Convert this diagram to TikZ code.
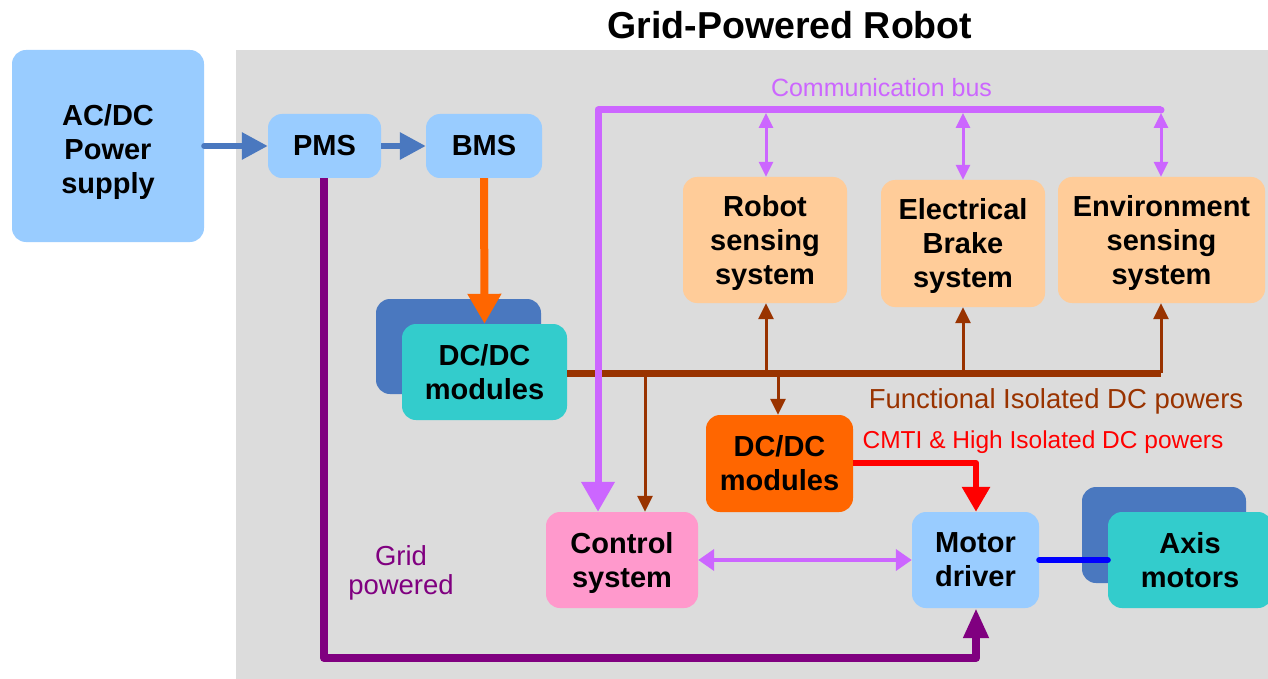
\documentclass[tikz,border=0pt]{standalone}
\usepackage{fontspec}
\setmainfont{Liberation Sans}
\usetikzlibrary{arrows.meta}
\definecolor{bg}{HTML}{DCDCDC}
\definecolor{lblue}{HTML}{99CCFF}
\definecolor{sblue}{HTML}{4A78BF}
\definecolor{teal}{HTML}{33CCCC}
\definecolor{peach}{HTML}{FFCC99}
\definecolor{orng}{HTML}{FF6600}
\definecolor{pink}{HTML}{FF99CC}
\definecolor{violet}{HTML}{CC66FF}
\definecolor{brown}{HTML}{993300}
\definecolor{purp}{HTML}{800080}
\tikzset{
  blk/.style={rounded corners=14pt, inner sep=0pt},
  txt/.style={inner sep=0pt, align=center, font=\fontsize{29}{34}\selectfont\bfseries},
}
\begin{document}
\begin{tikzpicture}[x=1pt,y=-1pt]
\useasboundingbox (0,0) rectangle (1268,679);
\fill[white] (0,0) rectangle (1268,679);
\fill[bg] (236,50) rectangle (1268,679);
\node[font=\fontsize{37.5}{44}\selectfont\bfseries] (title) at (790,25) {Grid-Powered Robot};
% blocks
\node[blk, fill=lblue, minimum width=192pt, minimum height=192pt] (acdc) at (108,146) {};
\node[txt] (acdct) at ([yshift=-6pt]acdc.center) {AC/DC\\Power\\supply};
\node[blk, fill=lblue, minimum width=113pt, minimum height=64pt] (pms) at (324.5,146) {};
\node[txt] (pmst) at (pms.center) {PMS};
\node[blk, fill=lblue, minimum width=116pt, minimum height=64pt] (bms) at (484,146) {};
\node[txt] (bmst) at (bms.center) {BMS};
\fill[sblue, rounded corners=14pt] (376,299) rectangle (541,394);
\node[blk, fill=teal, minimum width=165pt, minimum height=96pt] (dc1) at (484.5,372) {};
\node[txt] (dc1t) at (dc1.center) {DC/DC\\modules};
\node[blk, fill=peach, minimum width=164pt, minimum height=126pt] (rss) at (765,240) {};
\node[txt] (rsst) at ([yshift=-3pt]rss.center) {Robot\\sensing\\system};
\node[blk, fill=peach, minimum width=164pt, minimum height=127pt] (ebs) at (963,243.5) {};
\node[txt] (ebst) at ([yshift=-3pt]ebs.center) {Electrical\\Brake\\system};
\node[blk, fill=peach, minimum width=207pt, minimum height=126pt] (ess) at (1161.5,240) {};
\node[txt] (esst) at ([yshift=-3pt]ess.center) {Environment\\sensing\\system};
\node[blk, fill=orng, minimum width=147pt, minimum height=97pt] (dc2) at (779.5,463.5) {};
\node[txt] (dc2t) at (dc2.center) {DC/DC\\modules};
\node[blk, fill=pink, minimum width=152pt, minimum height=96pt] (ctl) at (622,560) {};
\node[txt] (ctlt) at ([yshift=-2.5pt]ctl.center) {Control\\system};
\node[blk, fill=lblue, minimum width=127pt, minimum height=96pt] (mdr) at (975.5,560) {};
\node[txt] (mdrt) at (mdr.center) {Motor\\driver};
\fill[sblue, rounded corners=14pt] (1082,487) rectangle (1246,583);
\node[blk, fill=teal, minimum width=164pt, minimum height=96pt] (axm) at (1190,560) {};
\node[txt] (axmt) at (axm.center) {Axis\\motors};
% labels
\node[font=\fontsize{25}{30}\selectfont, text=violet] (cbl) at (881.5,88) {Communication bus};
\node[font=\fontsize{27.5}{32}\selectfont, text=brown] (fidl) at (1056,401.5) {Functional Isolated DC powers};
\node[font=\fontsize{24.5}{30}\selectfont, text=red] (cmtil) at (1043,442.5) {CMTI \& High Isolated DC powers};
\node[font=\fontsize{27.5}{29.5}\selectfont, text=purp, align=center] (gpl) at (401,573) {Grid\\powered};
% blue arrows
\draw[sblue, line width=6pt, line cap=round, -{Triangle[length=26pt,width=26pt]}] (acdc.east) -- (pms.west);
\draw[sblue, line width=6pt, -{Triangle[length=26pt,width=26pt]}] (pms.east) -- (bms.west);
% BMS -> DC/DC
\draw[orng, line width=8pt, -{Triangle[length=30pt,width=32pt]}] (bms.south) -- (dc1.north);
% grid powered
\coordinate (g1) at (324,658);
\coordinate (g2) at (976,658);
\draw[purp, line width=8pt, line join=round, -{Triangle[length=30pt,width=24pt]}] (pms.south -| g1) -- (g1) -- (g2) -- (mdr.south -| g2);
% brown bus
\coordinate (b0) at (567,373);
\coordinate (b1) at (1161,373);
\coordinate (bc) at (645,373);
\coordinate (bd) at (778,373);
\coordinate (br) at (766,373);
\coordinate (be) at (963,373);
\draw[brown, line width=7pt] (dc1.east |- b0) -- (b1);
\draw[brown, line width=3pt, -{Triangle[length=16pt,width=15pt]}] (br) -- (rss.south -| br);
\draw[brown, line width=3pt, -{Triangle[length=16pt,width=15pt]}] (be) -- (ebs.south -| be);
\draw[brown, line width=3pt, -{Triangle[length=16pt,width=15pt]}] (b1) -- (ess.south -| b1);
\draw[brown, line width=3pt, -{Triangle[length=16pt,width=15pt]}] (bc) -- (ctl.north -| bc);
\draw[brown, line width=3pt, -{Triangle[length=16pt,width=15pt]}] (bd) -- (dc2.north -| bd);
% communication bus
\coordinate (c0) at (598,110);
\coordinate (c1) at (1161,110);
\coordinate (t1) at (766,113);
\coordinate (t2) at (963,113);
\coordinate (t3) at (1161,113);
\draw[violet, line width=7pt, line join=round, -{Triangle[length=30pt,width=32pt]}] (c1) -- (c0) -- (ctl.north -| c0);
\fill[violet] (c1) circle (3.5pt);
\draw[violet, line width=3pt, {Triangle[length=15pt,width=14pt]}-{Triangle[length=15pt,width=14pt]}] (t1) -- (rss.north -| t1);
\draw[violet, line width=3pt, {Triangle[length=15pt,width=14pt]}-{Triangle[length=15pt,width=14pt]}] (t2) -- (ebs.north -| t2);
\draw[violet, line width=3pt, {Triangle[length=15pt,width=14pt]}-{Triangle[length=15pt,width=14pt]}] (t3) -- (ess.north -| t3);
% CMTI
\coordinate (r1) at (976,463);
\draw[red, line width=6pt, line join=round, -{Triangle[length=25pt,width=27pt]}] (dc2.east |- r1) -- (r1) -- (mdr.north -| r1);
% control <-> motor driver
\draw[violet, line width=4pt, {Triangle[length=16pt,width=21pt]}-{Triangle[length=16pt,width=21pt]}] (ctl.east) -- (mdr.west);
% motor driver - axis motors
\draw[blue, line width=6pt, line cap=round] (mdr.east) -- (axm.west);
\end{tikzpicture}
\end{document}
